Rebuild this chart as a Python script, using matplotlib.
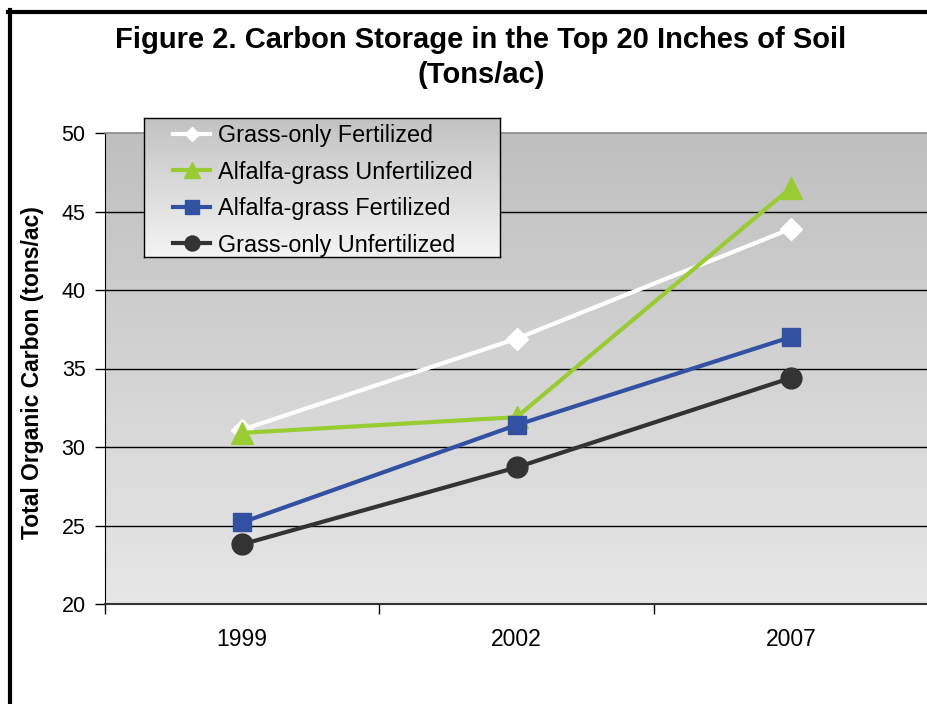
import numpy as np
import matplotlib
matplotlib.use('Agg')
import matplotlib.pyplot as plt
from matplotlib.colors import LinearSegmentedColormap
from matplotlib.lines import Line2D

# ---- data ----
years = ['1999', '2002', '2007']
grass_fert = [31.1, 36.9, 43.9]
alf_unfert = [30.9, 31.9, 46.5]
alf_fert = [25.2, 31.4, 37.0]
grass_unfert = [23.8, 28.7, 34.4]
series_names = ['Grass-only Fertilized', 'Alfalfa-grass Unfertilized',
                'Alfalfa-grass Fertilized', 'Grass-only Unfertilized']
y_ticks = [20, 25, 30, 35, 40, 45, 50]

plt.rcParams['font.family'] = ['Liberation Sans', 'DejaVu Sans']

W, H = 927, 704
fig = plt.figure(figsize=(W / 100, H / 100), dpi=100)

def fx(px):
    return px / W

def fy(py):
    return 1 - py / H

# main axes
ax = fig.add_axes([fx(105), fy(604), fx(928) - fx(105), fy(133) - fy(604)])
x = np.arange(1, len(years) + 1)
ax.set_xlim(0.5, len(years) + 0.5)
ax.set_ylim(y_ticks[0], y_ticks[-1])

grad = np.linspace(0, 1, 256).reshape(-1, 1)
cmap = LinearSegmentedColormap.from_list('g', ['#bfbfbf', '#e7e7e7'])
ax.imshow(grad, extent=(0.5, len(years) + 0.5, y_ticks[0], y_ticks[-1]),
          origin='upper', aspect='auto', cmap=cmap, zorder=0)

for v in y_ticks[1:-1]:
    ax.axhline(v, color='black', lw=1.0, zorder=1)

styles = [
    dict(color='white', marker='D', ms=11),
    dict(color='#99cc33', marker='^', ms=16),
    dict(color='#3351a3', marker='s', ms=13.5),
    dict(color='#333333', marker='o', ms=15),
]
data = [grass_fert, alf_unfert, alf_fert, grass_unfert]
for i, (vals, st, name) in enumerate(zip(data, styles, series_names)):
    ax.plot(x, vals, lw=3, mec=st['color'], mfc=st['color'], label=name,
            zorder=3 + i, solid_capstyle='butt', clip_on=False, **st)

ax.set_yticks(y_ticks)
ax.set_yticklabels([str(v) for v in y_ticks])
ax.set_xticks(np.arange(0.5, len(years) + 1, 1.0))
ax.set_xticklabels([])
ax.set_xticks(x, minor=True)
ax.set_xticklabels(years, minor=True)
ax.tick_params(axis='y', direction='out', length=7, width=1, labelsize=15.5, pad=7, colors='black')
ax.tick_params(axis='x', which='major', direction='out', length=7, width=1)
ax.tick_params(axis='x', which='minor', length=0, labelsize=16.5, pad=17)

ax.spines['right'].set_visible(False)
ax.spines['top'].set_color('#888888')
ax.spines['top'].set_linewidth(1.2)
ax.spines['left'].set_color('black')
ax.spines['bottom'].set_color('#333333')
ax.spines['bottom'].set_linewidth(1.5)

fig.text(fx(33), fy(373), 'Total Organic Carbon (tons/ac)', rotation=90,
         fontsize=16.5, fontweight='bold', ha='center', va='center')

fig.text(fx(481), fy(40), 'Figure 2. Carbon Storage in the Top 20 Inches of Soil',
         fontsize=21, fontweight='bold', ha='center', va='center')
fig.text(fx(481), fy(75), '(Tons/ac)', fontsize=21, fontweight='bold', ha='center', va='center')

# legend box with gradient
lax = fig.add_axes([fx(144), fy(257), fx(500) - fx(144), fy(118) - fy(257)], zorder=10)
cmap2 = LinearSegmentedColormap.from_list('g2', ['#c2c2c2', '#f4f4f4'])
lax.imshow(grad, extent=(0, 1, 0, 1), origin='upper', aspect='auto', cmap=cmap2)
lax.set_xticks([])
lax.set_yticks([])
for s in lax.spines.values():
    s.set_color('black')
    s.set_linewidth(1)

handles = []
leg_ms = [7, 11.5, 10.5, 10.8]
for st, ms in zip(styles, leg_ms):
    handles.append(Line2D([], [], color=st['color'], marker=st['marker'], ms=ms,
                          mec=st['color'], mfc=st['color'], lw=3))
leg = lax.legend(handles, series_names, loc='upper left',
                 bbox_to_anchor=(fx(173), fy(124)), bbox_transform=fig.transFigure,
                 frameon=False, fontsize=16.8, borderpad=0, borderaxespad=0,
                 handlelength=1.6, handletextpad=0.34, labelspacing=0.58)

# outer frame
fig.add_artist(Line2D([fx(10), fx(10)], [fy(10), 0], color='black', lw=3, transform=fig.transFigure))
fig.add_artist(Line2D([fx(8), 1], [fy(12), fy(12)], color='black', lw=3, transform=fig.transFigure))

fig.savefig('out.png', dpi=100)
